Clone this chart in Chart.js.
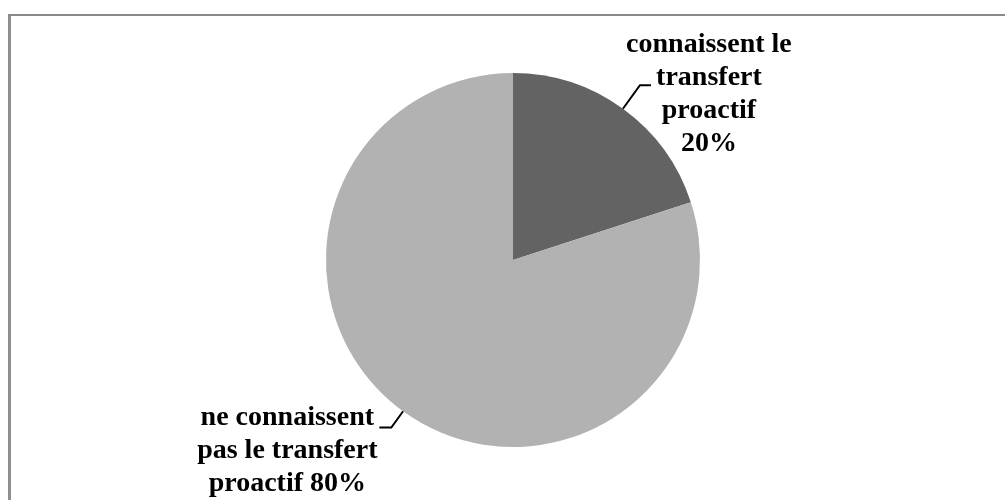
<!DOCTYPE html>
<html>
<head>
<meta charset="utf-8">
<script src="https://cdn.jsdelivr.net/npm/chart.js@4/dist/chart.umd.min.js"></script>
<style>
  html, body { margin: 0; padding: 0; background: #fff; overflow: hidden; }
  #wrap { position: relative; width: 1005px; height: 500px; }
  #frame {
    position: absolute; left: 8px; top: 14px; width: 1200px; height: 700px;
    border-top: 2px solid #898989; border-left: 3px solid #8f8f8f;
    pointer-events: none;
  }
  canvas { position: absolute; left: 0; top: 0; }
</style>
</head>
<body>
<div id="wrap">
  <canvas id="myChart" width="1005" height="500"></canvas>
  <div id="frame"></div>
</div>
<script>
"use strict";

// DATA
const categories = [
  "connaissent le transfert proactif",
  "ne connaissent pas le transfert proactif",
];
const shares = [20, 80];
const sliceColors = ["#636363", "#b2b2b2"];
// label text as it is wrapped in the picture, {p} = percentage
const labelLines = [
  ["connaissent le", "transfert", "proactif", "{p}"],
  ["ne connaissent", "pas le transfert", "proactif {p}"],
];

// label placement (style only): leader lengths and text offset from leader end
const labelStyle = [
  { leader: 29, tail: 11, dx: 58, dy: -33 },
  { leader: 20, tail: 12, dx: -92, dy: -2 },
];

const total = shares.reduce((a, b) => a + b, 0);

const leaderLabels = {
  id: "leaderLabels",
  afterDatasetsDraw(chart) {
    const ctx = chart.ctx;
    const meta = chart.getDatasetMeta(0);
    meta.data.forEach((arc, i) => {
      const { x, y, startAngle, endAngle, outerRadius } = arc.getProps(
        ["x", "y", "startAngle", "endAngle", "outerRadius"],
        true
      );
      const mid = (startAngle + endAngle) / 2;
      const cos = Math.cos(mid);
      const sin = Math.sin(mid);
      const st = labelStyle[i];
      const ax = x + cos * outerRadius;
      const ay = y + sin * outerRadius;
      const ex = ax + cos * st.leader;
      const ey = ay + sin * st.leader;
      const side = cos >= 0 ? 1 : -1;
      const tx = ex + side * st.tail;

      ctx.save();
      ctx.strokeStyle = "#000";
      ctx.lineWidth = 2;
      ctx.beginPath();
      ctx.moveTo(ax, ay);
      ctx.lineTo(ex, ey);
      ctx.lineTo(tx, ey);
      ctx.stroke();

      const pct = Math.round((shares[i] / total) * 100) + "%";
      ctx.fillStyle = "#000";
      ctx.font = "bold 28px 'Liberation Serif', 'Times New Roman', serif";
      ctx.textAlign = "center";
      ctx.textBaseline = "alphabetic";
      labelLines[i].forEach((line, j) => {
        ctx.fillText(line.replace("{p}", pct), tx + st.dx, ey + st.dy + j * 33);
      });
      ctx.restore();
    });
  },
};

const chart = new Chart(document.getElementById("myChart").getContext("2d"), {
  type: "pie",
  data: {
    labels: categories,
    datasets: [
      {
        data: shares,
        backgroundColor: sliceColors,
        borderWidth: 0,
      },
    ],
  },
  options: {
    responsive: false,
    animation: false,
    layout: { padding: { top: 73, bottom: 53, left: 21, right: 0 } },
    plugins: {
      legend: { display: false },
      tooltip: { enabled: false },
    },
  },
  plugins: [leaderLabels],
});
</script>
</body>
</html>
